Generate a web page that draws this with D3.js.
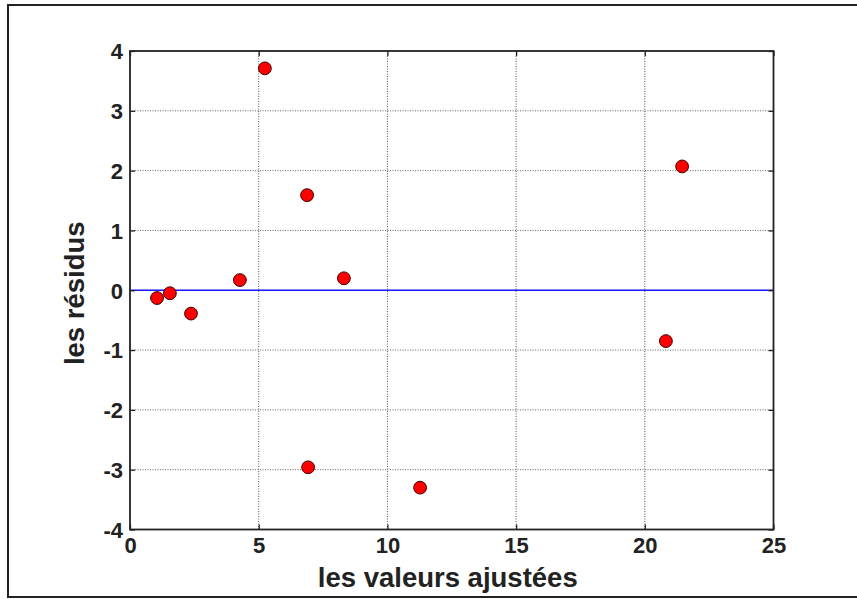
<!DOCTYPE html>
<html>
<head>
<meta charset="utf-8">
<script src="https://cdn.jsdelivr.net/npm/d3@7"></script>
<style>
  html, body { margin: 0; padding: 0; background: #fff; }
  svg { display: block; }
  text { font-family: "Liberation Sans", Arial, Helvetica, sans-serif; font-weight: bold; fill: #222; }
</style>
</head>
<body>
<svg id="chart" width="857" height="599"></svg>
<script>
// Fitted values (x) and residuals (y)
const fitted    = [1.05, 1.55, 2.37, 4.27, 5.24, 6.88, 6.92, 8.31, 11.27, 20.82, 21.45];
const residuals = [-0.13, -0.05, -0.39, 0.17, 3.71, 1.59, -2.96, 0.20, -3.30, -0.85, 2.07];

const xTicks = [0, 5, 10, 15, 20, 25];
const yTicks = [-4, -3, -2, -1, 0, 1, 2, 3, 4];
const xDomain = [0, 25];
const yDomain = [-4, 4];

const xTitle = "les valeurs ajustées";
const yTitle = "les résidus";

const svg = d3.select("#chart");

// Figure frame
svg.append("rect")
  .attr("x", 8).attr("y", 5)
  .attr("width", 852).attr("height", 592)
  .attr("fill", "none").attr("stroke", "#222").attr("stroke-width", 2);

const plot = { left: 130, right: 773.5, top: 51, bottom: 529.5 };

const x = d3.scaleLinear().domain(xDomain).range([plot.left, plot.right]);
const y = d3.scaleLinear().domain(yDomain).range([plot.bottom, plot.top]);

// Dotted grid
const grid = svg.append("g");
grid.selectAll("line.gx").data(xTicks.slice(1, -1)).join("line")
  .attr("x1", d => x(d)).attr("x2", d => x(d))
  .attr("y1", plot.top).attr("y2", plot.bottom)
  .attr("stroke", "#555").attr("stroke-width", 1).attr("stroke-dasharray", "1,1.5");
grid.selectAll("line.gy").data(yTicks.slice(1, -1)).join("line")
  .attr("x1", plot.left).attr("x2", plot.right)
  .attr("y1", d => y(d)).attr("y2", d => y(d))
  .attr("stroke", "#666").attr("stroke-width", 1).attr("stroke-dasharray", "1,1.5");

// Zero reference line
svg.append("line")
  .attr("x1", plot.left).attr("x2", plot.right)
  .attr("y1", y(0)).attr("y2", y(0))
  .attr("stroke", "#1a1aff").attr("stroke-width", 1.3);

// Axes with inward ticks on all four sides
const tickLen = 5;
const axisBottom = d3.axisBottom(x).tickValues(xTicks).tickSize(-tickLen).tickPadding(8).tickFormat(d3.format("d"));
const axisTop = d3.axisTop(x).tickValues(xTicks).tickSize(-tickLen).tickFormat("");
const axisLeft = d3.axisLeft(y).tickValues(yTicks).tickSize(-tickLen).tickPadding(7).tickFormat(d3.format("d"));
const axisRight = d3.axisRight(y).tickValues(yTicks).tickSize(-tickLen).tickFormat("");

function styleAxis(g) {
  g.select(".domain").remove();
  g.selectAll(".tick line").attr("stroke", "#222").attr("stroke-width", 1.3);
  g.selectAll(".tick text")
    .attr("fill", "#222")
    .style("font-family", '"Liberation Sans", Arial, sans-serif')
    .style("font-weight", "bold")
    .style("font-size", "22px");
}

svg.append("g").attr("transform", `translate(0,${plot.bottom})`).call(axisBottom).call(styleAxis)
  .selectAll(".tick text").attr("dy", "0.72em");
svg.append("g").attr("transform", `translate(0,${plot.top})`).call(axisTop).call(styleAxis);
svg.append("g").attr("transform", `translate(${plot.left},0)`).call(axisLeft).call(styleAxis)
  .selectAll(".tick text").attr("dy", "0.36em").text(d => d < 0 ? "-" + Math.abs(d) : d);
svg.append("g").attr("transform", `translate(${plot.right},0)`).call(axisRight).call(styleAxis);

// Axes box
svg.append("rect")
  .attr("x", plot.left).attr("y", plot.top)
  .attr("width", plot.right - plot.left).attr("height", plot.bottom - plot.top)
  .attr("fill", "none").attr("stroke", "#222").attr("stroke-width", 1.8);

// Residual markers
svg.append("g").selectAll("circle")
  .data(fitted.map((f, i) => ({ f, r: residuals[i] })))
  .join("circle")
  .attr("cx", d => x(d.f)).attr("cy", d => y(d.r))
  .attr("r", 6.4)
  .attr("fill", "#ff0000").attr("stroke", "#3a0000").attr("stroke-width", 1);

// Axis titles
svg.append("text")
  .attr("x", (plot.left + plot.right) / 2 - 4).attr("y", 587)
  .attr("text-anchor", "middle")
  .style("font-size", "27.5px")
  .text(xTitle);

svg.append("text")
  .attr("transform", `translate(84,${(plot.top + plot.bottom) / 2 + 3}) rotate(-90)`)
  .attr("text-anchor", "middle")
  .style("font-size", "27.5px")
  .text(yTitle);
</script>
</body>
</html>
